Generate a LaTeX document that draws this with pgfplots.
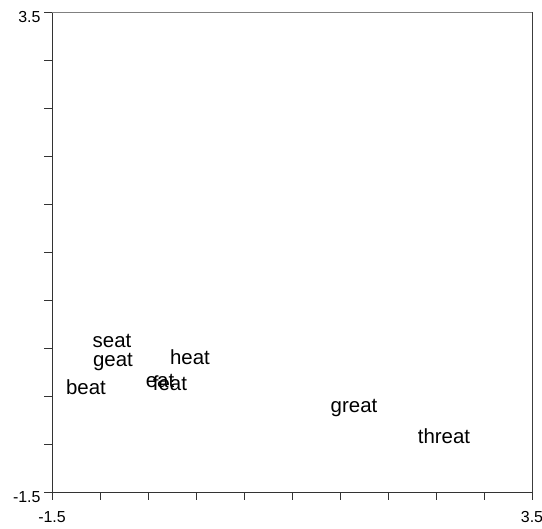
\documentclass[border=0pt]{standalone}
\usepackage{pgfplots}
\pgfplotsset{compat=1.18}
\usepackage{fontspec}
\setmainfont{Liberation Sans}

\pgfplotstableread{
x y label
-0.875 0.073 seat
-0.865 -0.146 geat
-0.063 -0.094 heat
-1.146 -0.406 beat
-0.375 -0.344 eat
-0.271 -0.365 feat
1.646 -0.625 great
2.583 -0.917 threat
}\words

\begin{document}
\begin{tikzpicture}[x=1bp,y=1bp]
\useasboundingbox (0,0) rectangle (542,529);
\begin{axis}[
    at={(52bp,37bp)}, anchor=south west,
    width=480bp, height=480bp, scale only axis,
    xmin=-1.5, xmax=3.5, ymin=-1.5, ymax=3.5,
    xtick={-1.5,-1,...,3.5}, ytick={-1.5,-1,...,3.5},
    xticklabels={-1.5,,,,,,,,,,3.5},
    yticklabels={-1.5,,,,,,,,,,3.5},
    tick align=outside, xtick pos=bottom, ytick pos=left,
    major tick length=8bp,
    tick style={black!80, line width=0.8pt},
    axis line style={black!80, line width=0.8pt},
    /pgf/number format/assume math mode=true,
    ticklabel style={font=\fontsize{16}{18}\selectfont},
    xticklabel style={yshift=-8bp},
    yticklabel style={yshift=-5bp},
]
\addplot[only marks, mark=none, nodes near coords, point meta=explicit symbolic,
    nodes near coords style={anchor=center, font=\fontsize{20.5}{24}\selectfont}]
    table[meta=label] {\words};
\draw[gray, line width=0.8pt] (rel axis cs:0,1) -- (rel axis cs:1,1) -- (rel axis cs:1,0);
\end{axis}
\end{tikzpicture}
\end{document}
